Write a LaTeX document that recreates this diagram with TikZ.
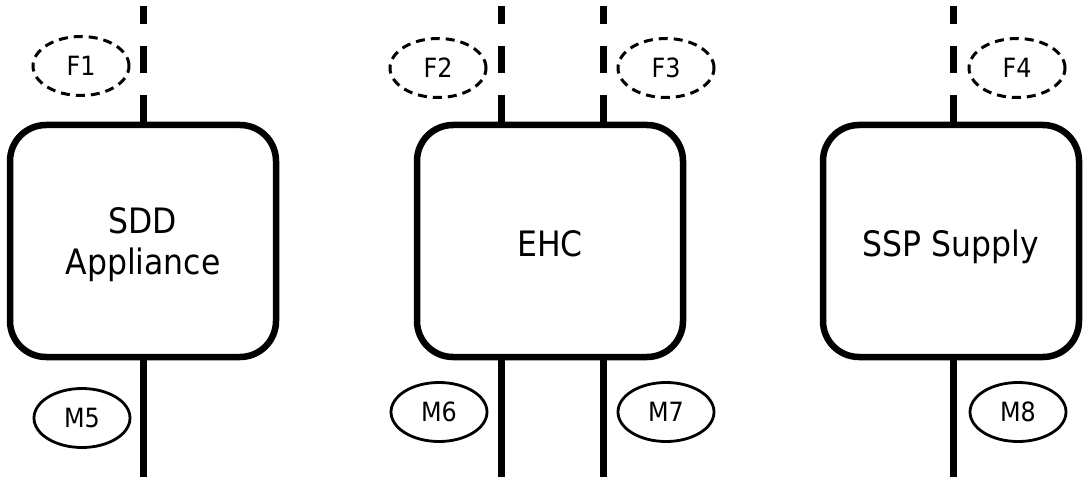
\documentclass[tikz,border=0pt]{standalone}
\usepackage{fontspec}
\setmainfont{DejaVu Sans Condensed}
\usetikzlibrary{shapes.geometric}
\tikzset{
  unitbox/.style={draw, line width=6.5pt, rounded corners=36pt, minimum width=266pt, minimum height=232pt, inner sep=0pt},
  boxtext/.style={inner sep=0pt, align=center, font=\fontsize{35}{41}\selectfont},
  flowtag/.style={draw, ellipse, line width=3pt, dash pattern=on 9pt off 6pt, minimum width=96pt, minimum height=59pt, inner sep=0pt, font=\fontsize{26.5}{30}\selectfont},
  meastag/.style={draw, ellipse, line width=2.8pt, minimum width=96pt, minimum height=59pt, inner sep=0pt, font=\fontsize{26.5}{30}\selectfont},
  fline/.style={line width=7pt, dash pattern=on 27pt off 22pt},
  mline/.style={line width=7pt}
}
\begin{document}
\begin{tikzpicture}[x=1pt,y=-1pt]
\useasboundingbox (0,0) rectangle (1083,481);
% boxes
\node[unitbox] (b1) at (143,241) {};
\node[unitbox] (b2) at (550,241) {};
\node[unitbox, minimum width=256pt] (b3) at (951,241) {};
\node[boxtext] (l1) at ([yshift=-4pt]b1.center) {SDD\\Appliance};
\node[boxtext] (l2) at ([yshift=-2.5pt]b2.center) {EHC};
\node[boxtext] (l3) at ([yshift=-6pt]b3.center) {SSP Supply};
% line end points
\coordinate (t1) at (143,6);
\coordinate (t2) at (501,6);
\coordinate (t3) at (603,6);
\coordinate (t4) at (953,6);
\coordinate (d1) at (143,477);
\coordinate (d2) at (501,477);
\coordinate (d3) at (603,477);
\coordinate (d4) at (953,477);
% dashed top lines
\draw[fline] (t1 |- b1.north) -- (t1);
\draw[fline] (t2 |- b2.north) -- (t2);
\draw[fline] (t3 |- b2.north) -- (t3);
\draw[fline] (t4 |- b3.north) -- (t4);
% solid bottom lines
\draw[mline] (d1 |- b1.south) -- (d1);
\draw[mline] (d2 |- b2.south) -- (d2);
\draw[mline] (d3 |- b2.south) -- (d3);
\draw[mline] (d4 |- b3.south) -- (d4);
% tags
\node[flowtag] (f1) at (81,66) {F1};
\node[flowtag] (f2) at (438,68) {F2};
\node[flowtag] (f3) at (666,68) {F3};
\node[flowtag] (f4) at (1017,68) {F4};
\node[meastag] (m5) at (82,418) {M5};
\node[meastag] (m6) at (439,412) {M6};
\node[meastag] (m7) at (666,412) {M7};
\node[meastag] (m8) at (1018,412) {M8};
\end{tikzpicture}
\end{document}
